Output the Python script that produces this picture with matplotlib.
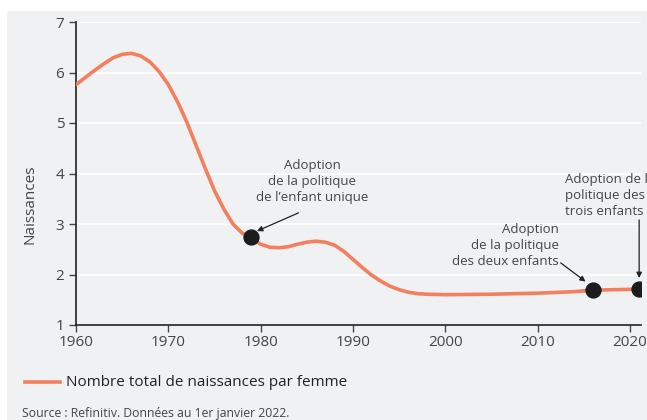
import numpy as np
import matplotlib.pyplot as plt
from matplotlib.patches import Rectangle

# fertility rate, China
years = [1960, 1961, 1962, 1963, 1964, 1965, 1966, 1967, 1968, 1969, 1970, 1971,
         1972, 1973, 1974, 1975, 1976, 1977, 1978, 1979, 1980, 1981, 1982, 1983,
         1984, 1985, 1986, 1987, 1988, 1989, 1990, 1991, 1992, 1993, 1994, 1995,
         1996, 1997, 1998, 2000, 2005, 2010, 2014, 2016, 2021]
births = [5.76, 5.9, 6.04, 6.17, 6.29, 6.36, 6.38, 6.33, 6.21, 6.02, 5.76, 5.42,
          5.02, 4.56, 4.1, 3.66, 3.3, 3.0, 2.82, 2.72, 2.6, 2.54, 2.53, 2.55,
          2.6, 2.64, 2.66, 2.64, 2.58, 2.46, 2.3, 2.14, 1.99, 1.87, 1.77, 1.7,
          1.65, 1.62, 1.61, 1.6, 1.61, 1.63, 1.66, 1.69, 1.71]

event_years = [1979, 2016, 2021]
event_values = [2.75, 1.69, 1.71]
event_texts = ["Adoption\nde la politique\nde l’enfant unique",
               "Adoption\nde la politique\ndes deux enfants",
               "Adoption de la\npolitique des\ntrois enfants"]

xticks = [1960, 1970, 1980, 1990, 2000, 2010, 2020]
yticks = [1, 2, 3, 4, 5, 6, 7]

line_color = '#f47f5e'
text_color = '#454545'
bg = '#f0f1f3'

plt.rcParams['font.family'] = ['Open Sans', 'DejaVu Sans']

fig = plt.figure(figsize=(6.47, 4.2), dpi=100)
fig.patches.append(Rectangle((7 / 647, 0), 1, 1 - 11 / 420, transform=fig.transFigure,
                             facecolor=bg, edgecolor='none', zorder=-10))

ax = fig.add_axes([76 / 647, 1 - 325 / 420, (641 - 76) / 647, (325 - 22) / 420])
ax.patch.set_alpha(0)

ax.plot(years, births, color=line_color, lw=2.6, solid_capstyle='round', zorder=3)
ax.scatter(event_years, event_values, s=115, color='#1c1c1c', zorder=4)

ax.set_xlim(1960, 2021.2)
ax.set_ylim(1, 7)
ax.set_xticks(xticks)
ax.set_yticks(yticks)
ax.grid(axis='y', color='white', lw=1.3, zorder=0)
ax.set_axisbelow(True)
for s in ['top', 'right']:
    ax.spines[s].set_visible(False)
for s in ['left', 'bottom']:
    ax.spines[s].set_color('#222222')
    ax.spines[s].set_linewidth(1.2)
ax.tick_params(colors=text_color, labelsize=11, length=5, width=1)
ax.tick_params(axis='x', pad=2)
ax.set_ylabel('Naissances', color=text_color, fontsize=11)
ax.yaxis.set_label_coords(-0.068, 0.40)

ann = dict(fontsize=9.5, color=text_color, linespacing=1.3)
arrow = dict(arrowstyle='-|>', color='#222222', lw=0.9, mutation_scale=8,
             shrinkA=0, shrinkB=0)

# one-child policy
ax.text(1985.6, 4.28, event_texts[0], ha='center', va='top', **ann)
ax.annotate('', xy=(1979.6, 2.86), xytext=(1984.1, 3.22), arrowprops=arrow)

# two-child policy
ax.text(2012.3, 3.02, event_texts[1], ha='right', va='top', **ann)
ax.annotate('', xy=(2015.2, 1.86), xytext=(2012.5, 2.23), arrowprops=arrow)

# three-child policy
ax.text(2013.0, 3.12, event_texts[2], ha='left', va='bottom', clip_on=False, **ann)
ax.annotate('', xy=(2021, 1.93), xytext=(2021, 3.08), arrowprops=arrow,
            annotation_clip=False)

fig.lines.append(plt.Line2D([25 / 647, 60 / 647], [1 - 382 / 420] * 2,
                            color=line_color, lw=2.6, transform=fig.transFigure))
fig.text(66 / 647, 1 - 382 / 420, 'Nombre total de naissances par femme',
         fontsize=11, color='#222222', va='center', fontweight='normal')
fig.text(22 / 647, 1 - 414 / 420, 'Source : Refinitiv. Données au 1er janvier 2022.',
         fontsize=8.8, color=text_color, va='center')

fig.savefig('out.png', dpi=100)
